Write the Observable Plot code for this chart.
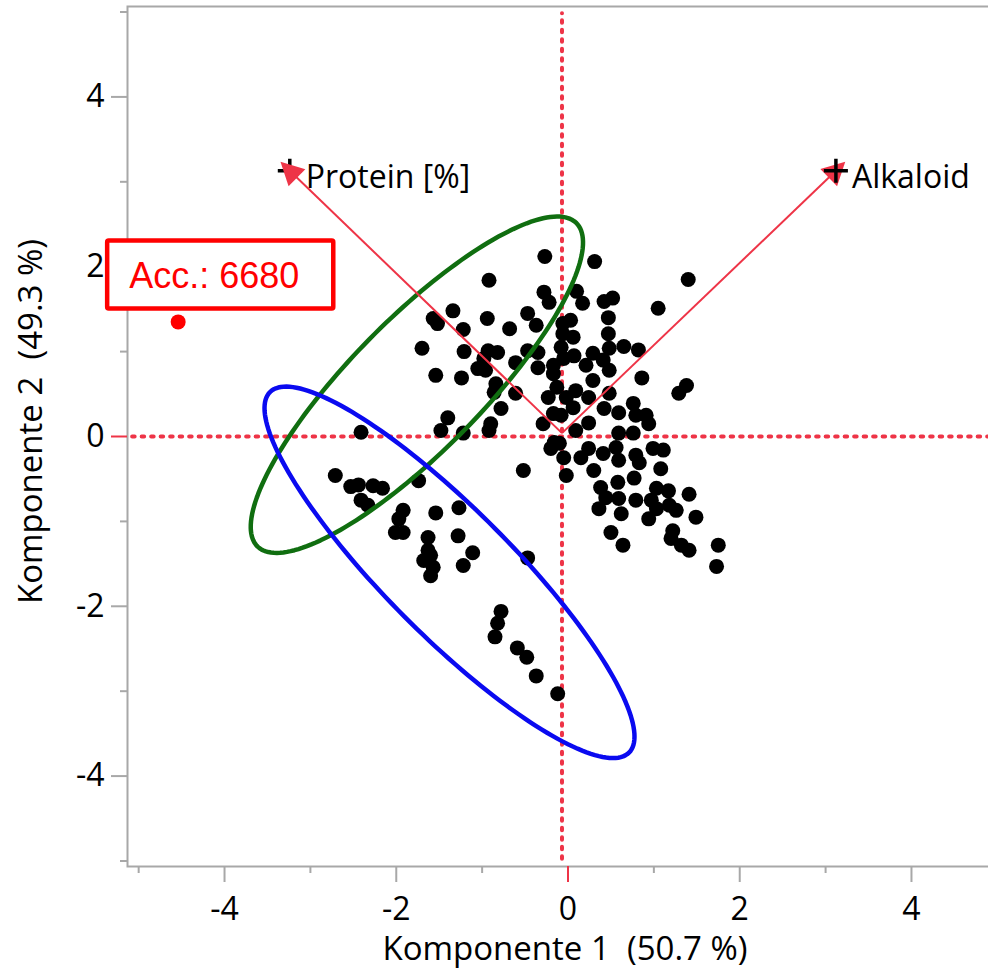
<!DOCTYPE html>
<html>
<head>
<meta charset="utf-8">
<script src="https://cdn.jsdelivr.net/npm/d3@7"></script>
<script src="https://cdn.jsdelivr.net/npm/@observablehq/plot@0.6"></script>
<style>
  body { margin: 0; background: #fff; }
  svg { overflow: hidden; }
  svg text { white-space: pre; }
</style>
</head>
<body>
<div id="chart"></div>
<script>
// Principal component scores (Komponente 1, Komponente 2)
const pc1 = [
  -0.27, -0.92, -0.28, -0.22, -1.34, -0.47, -1.57, -1.52, -0.94, -0.37, -1.22, -0.68, -1.70, -1.21, -0.93, -0.82,
  -0.98, -0.47, -0.35, -0.61, -1.05, -0.96, -0.35, -0.17, -1.54, -1.24, -0.17, -0.84, -0.13, -0.86, -0.61, -0.23,
  -0.78, -0.17, -0.08, -1.40, -0.90, -1.48, -0.92, -1.22, -0.29,
  0.31, 1.40, 0.10, 0.17, 0.42, 0.52, 1.05, 0.47, 0.03, -0.06, 0.47, 0.06, -0.06, 0.65, 0.82, -0.08,
  0.29, 0.48, 0.07, -0.05, 0.48, 0.21, 0.41, 0.86, 1.38, 1.29, 0.09, -0.02, 0.24, 0.48, 0.76, 0.42,
  0.59, 0.06, 0.79, 0.91, 0.94, 0.24, 0.09, 0.59, 0.76, 0.29,
  0.24, -0.10, -0.05, 0.15, 0.41, 0.56, 0.59, 0.79, 0.83, 0.99, 1.11, 0.30, -0.02, 1.08, 0.38, 0.58,
  0.77, 1.03, 1.17, 1.41, 0.44, 0.59, 0.79, 0.97, 0.36, 0.62, 0.94, 1.03, 1.26, 1.18, 1.49, 0.50,
  1.22, 1.20, 1.32, 1.41, 0.64, 1.75, 1.73,
  -2.41, -0.16, -0.20, -0.52, -2.71, -2.53, -2.44, -2.27, -2.16, -1.74, -2.41, -2.33, -1.92, -1.97, -2.01, -1.92,
  -1.54, -1.27, -1.63, -1.28, -1.11, -1.63, -1.60, -1.68, -1.57, -1.60, -1.22, -0.47, -0.78, -0.82, -0.85, -0.59,
  -0.48, -0.37, -0.12
];
const pc2 = [
  2.12, 1.84, 1.70, 1.58, 1.48, 1.45, 1.39, 1.33, 1.39, 1.31, 1.26, 1.27, 1.04, 1.00, 1.01, 0.99,
  0.92, 1.01, 0.99, 0.87, 0.80, 0.78, 0.81, 0.84, 0.72, 0.69, 0.74, 0.62, 0.58, 0.52, 0.51, 0.46,
  0.33, 0.27, 0.25, 0.22, 0.15, 0.07, 0.07, 0.04, 0.15,
  2.06, 1.85, 1.71, 1.57, 1.59, 1.63, 1.51, 1.40, 1.37, 1.33, 1.21, 1.17, 1.21, 1.06, 1.02, 1.05,
  0.98, 1.04, 0.95, 0.92, 0.78, 0.84, 0.90, 0.69, 0.60, 0.51, 0.54, 0.46, 0.46, 0.51, 0.39, 0.33,
  0.28, 0.34, 0.25, 0.25, 0.15, 0.16, 0.07, 0.04, 0.04, 0.66,
  -0.14, -0.08, -0.25, -0.25, -0.20, -0.13, -0.28, -0.22, -0.31, -0.14, -0.16, -0.40, -0.46, -0.38, -0.60, -0.54,
  -0.49, -0.61, -0.64, -0.68, -0.72, -0.73, -0.75, -0.75, -0.85, -0.91, -0.97, -0.85, -0.87, -0.81, -0.95, -1.13,
  -1.11, -1.20, -1.28, -1.34, -1.28, -1.28, -1.53,
  0.05, -0.07, -0.14, -0.40, -0.46, -0.59, -0.57, -0.58, -0.61, -0.52, -0.75, -0.81, -0.87, -0.97, -1.13, -1.13,
  -0.90, -0.84, -1.19, -1.17, -1.37, -1.34, -1.40, -1.46, -1.54, -1.64, -1.52, -1.43, -2.06, -2.20, -2.36, -2.49,
  -2.60, -2.82, -3.03
];

// Variable loadings (biplot rays)
const loadingNames = ["Protein [%]", "Alkaloid"];
const loadingX = [-3.24, 3.12];
const loadingY = [3.13, 3.13];
const rayOriginX = -0.07;
const rayOriginY = 0.04;

// Reference lines
const refX = -0.07;
const refY = 0;

// Highlighted accession
const highlightLabel = "Acc.: 6680";
const highlightX = -4.54;
const highlightY = 1.35;

// Group ellipses: centre, semi-axes and rotation (degrees)
const ellipseCx = [-1.76, -1.38];
const ellipseCy = [0.61, -1.60];
const ellipseA = [2.66, 2.98];
const ellipseB = [0.77, 0.74];
const ellipseAngle = [45.8, -45.5];
const ellipseColors = ["#106e10", "#0a0af0"];

// Axis ticks
const majorTicks = [-4, -2, 0, 2, 4];
const minorTicks = [-5, -3, -1, 1, 3, 5];
const xTitle = "Komponente 1  (50.7 %)";
const yTitle = "Komponente 2  (49.3 %)";

const gray = "#a8a8a8";
const refRed = "#ee3447";

const scores = pc1.map((x, i) => ({x, y: pc2[i]}));
const loadings = loadingNames.map((name, i) => ({name, x: loadingX[i], y: loadingY[i]}));

function ellipseOutline(i) {
  const phi = ellipseAngle[i] * Math.PI / 180;
  return d3.range(0, 361, 2).map(t => {
    const th = t * Math.PI / 180;
    const u = ellipseA[i] * Math.cos(th), v = ellipseB[i] * Math.sin(th);
    return {
      x: ellipseCx[i] + u * Math.cos(phi) - v * Math.sin(phi),
      y: ellipseCy[i] + u * Math.sin(phi) + v * Math.cos(phi)
    };
  });
}

// Filled arrowhead pointing up; rotated onto each ray, tip slightly past the ray end
const arrowHead = {
  draw(ctx) {
    ctx.moveTo(0, -13);
    ctx.lineTo(12, 10);
    ctx.lineTo(-12, 10);
    ctx.closePath();
  }
};
const rayAngle = d => Math.atan2(d.x - rayOriginX, d.y - rayOriginY) * 180 / Math.PI;

// Thin cross marking each loading's end point
const thinPlus = {
  draw(ctx) {
    const r = 12;
    ctx.moveTo(-r, 0); ctx.lineTo(r, 0);
    ctx.moveTo(0, -r); ctx.lineTo(0, r);
  }
};
const plusStyle = {x: "x", y: "y", symbol: thinPlus, fill: "none", stroke: "black", strokeWidth: 3.5};

const fmt = d => `${d}`;

const chart = Plot.plot({
  width: 988,
  height: 970,
  marginLeft: 127,
  marginRight: -20,
  marginTop: 6,
  marginBottom: 104,
  x: {domain: [-5.13, 5.13]},
  y: {domain: [-5.065, 5.065]},
  style: {fontFamily: "'Open Sans', 'Noto Sans', sans-serif", fontSize: "32px", color: "black", background: "white"},
  marks: [
    Plot.frame({stroke: gray, strokeWidth: 2}),
    // reference lines through the origin
    Plot.ruleX([{x: refX, y1: -4.98, y2: 4.98}], {x: "x", y1: "y1", y2: "y2", stroke: refRed, strokeWidth: 4, strokeDasharray: "2.5,7", strokeLinecap: "round"}),
    Plot.ruleY([{y: refY, x1: -5.07, x2: 5.13}], {y: "y", x1: "x1", x2: "x2", stroke: refRed, strokeWidth: 4, strokeDasharray: "2.5,7", strokeLinecap: "round"}),
    // axes
    Plot.axisX({ticks: majorTicks.filter(d => d !== 0), tickSize: 16, tickPadding: 15, stroke: gray, strokeWidth: 2, fill: "black", fontSize: 32, tickFormat: fmt, label: null}),
    Plot.axisX({ticks: [0], tickSize: 16, tickPadding: 15, stroke: refRed, strokeWidth: 2, fill: "black", fontSize: 32, tickFormat: fmt, label: null}),
    Plot.axisX({ticks: minorTicks, tickSize: 7, stroke: gray, strokeWidth: 2, tickFormat: () => "", label: null}),
    Plot.axisY({ticks: majorTicks.filter(d => d !== 0), tickSize: 16, tickPadding: 7, stroke: gray, strokeWidth: 2, fill: "black", fontSize: 32, tickFormat: fmt, label: null}),
    Plot.axisY({ticks: [0], tickSize: 16, tickPadding: 7, stroke: refRed, strokeWidth: 2, fill: "black", fontSize: 32, tickFormat: fmt, label: null}),
    Plot.axisY({ticks: minorTicks, tickSize: 7, stroke: gray, strokeWidth: 2, tickFormat: () => "", label: null}),
    // scores
    Plot.dot(scores, {x: "x", y: "y", r: 7.5, fill: "black", stroke: "none"}),
    // group ellipses
    ...ellipseCx.map((_, i) => Plot.line(ellipseOutline(i), {x: "x", y: "y", stroke: ellipseColors[i], strokeWidth: 4.5})),
    // loading rays (Protein cross sits under its arrowhead, Alkaloid cross above)
    Plot.link(loadings, {x1: () => rayOriginX, y1: () => rayOriginY, x2: "x", y2: "y", stroke: refRed, strokeWidth: 2}),
    Plot.dot(loadings.slice(0, 1), plusStyle),
    Plot.dot(loadings, {x: "x", y: "y", symbol: arrowHead, rotate: rayAngle, fill: refRed, stroke: "none"}),
    Plot.dot(loadings.slice(1), plusStyle),
    Plot.text(loadings, {x: "x", y: "y", text: "name", textAnchor: "start", lineAnchor: "middle", dx: 16, dy: 7, fontSize: 32, fill: "black"}),
    // highlighted accession
    Plot.dot([{x: highlightX, y: highlightY}], {x: "x", y: "y", r: 7.5, fill: "#ff0000"}),
    Plot.text([{x: highlightX, y: highlightY, label: highlightLabel}], {x: "x", y: "y", text: "label", textAnchor: "start", lineAnchor: "middle", dx: -49, dy: -45, fontSize: 36, fontFamily: "'Liberation Sans', Arial, sans-serif", fill: "#ff0000"}),
    // axis titles
    Plot.text([xTitle], {frameAnchor: "bottom", text: d => d, textAnchor: "middle", lineAnchor: "middle", dx: -3, dy: 83, fontSize: 33, fill: "black"}),
    Plot.text([yTitle], {frameAnchor: "left", text: d => d, rotate: -90, textAnchor: "middle", lineAnchor: "middle", dx: -96, dy: -15, fontSize: 33, fill: "black"})
  ]
});

document.getElementById("chart").append(chart);

// Boxed label around the highlighted accession
const accText = Array.from(chart.querySelectorAll("text")).find(t => t.textContent === highlightLabel);
if (accText) {
  const bb = accText.getBBox();
  const rect = document.createElementNS("http://www.w3.org/2000/svg", "rect");
  rect.setAttribute("x", bb.x - 22);
  rect.setAttribute("y", bb.y - 15);
  rect.setAttribute("width", bb.width + 56);
  rect.setAttribute("height", bb.height + 27);
  rect.setAttribute("fill", "white");
  rect.setAttribute("stroke", "#ff0000");
  rect.setAttribute("stroke-width", 4.5);
  rect.setAttribute("rx", 1.5);
  const tr = accText.getAttribute("transform");
  if (tr) rect.setAttribute("transform", tr);
  accText.parentNode.insertBefore(rect, accText);
}
</script>
</body>
</html>
